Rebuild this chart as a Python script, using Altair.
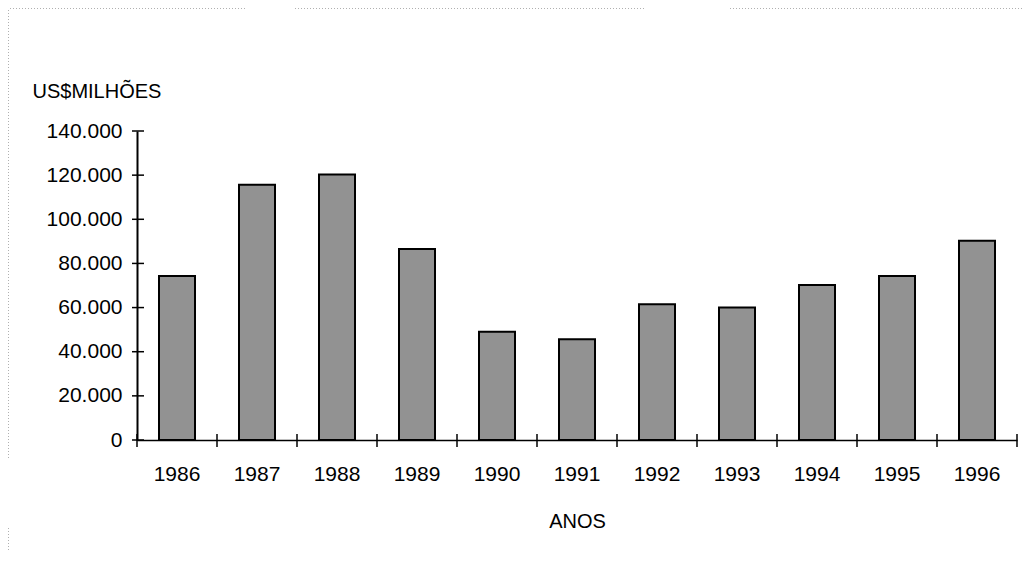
import altair as alt
import pandas as pd

years = ["1986", "1987", "1988", "1989", "1990", "1991", "1992", "1993", "1994", "1995", "1996"]
values = [74300, 115700, 120300, 86500, 49100, 45600, 61500, 60000, 70200, 74300, 90300]
y_tick_values = [0, 20000, 40000, 60000, 80000, 100000, 120000, 140000]

df = pd.DataFrame({"ano": years, "valor": values})
ticks_df = pd.DataFrame({"v": y_tick_values})
one = pd.DataFrame({"k": [0]})

FONT = "Liberation Sans"
x_scale = alt.Scale(paddingInner=0, paddingOuter=0)
y_scale = alt.Scale(domain=[0, 140000], nice=False)

x_axis = alt.Axis(title="ANOS", labelAngle=0, ticks=False, tickSize=0,
                  labelPadding=23, domainColor="black", domainWidth=1.5,
                  titleX=440, titleY=87, titleAlign="center",
                  titleBaseline="alphabetic", grid=False)
y_axis = alt.Axis(title="US$MILHÕES", values=y_tick_values, ticks=False, tickSize=0,
                  labelPadding=15, domainColor="black", domainWidth=2,
                  labelExpr="replace(format(datum.value, ','), ',', '.')",
                  titleAngle=0, titleAlign="left", titleBaseline="alphabetic",
                  titleX=-105, titleY=-34, grid=False)

bars = alt.Chart(df).mark_bar(
    width=alt.RelativeBandSize(0.45), fill="#929292", stroke="black", strokeWidth=2
).encode(
    x=alt.X("ano:O", scale=x_scale, sort=years, axis=x_axis),
    y=alt.Y("valor:Q", scale=y_scale, axis=y_axis),
)

xticks = alt.Chart(df).mark_rule(color="black", strokeWidth=1.5).encode(
    x=alt.X("ano:O", scale=x_scale, sort=years, bandPosition=0, axis=x_axis),
    y=alt.value(303), y2=alt.value(316),
)
xtick_last = alt.Chart(df).transform_filter(
    alt.datum.ano == years[-1]
).mark_rule(color="black", strokeWidth=1.5).encode(
    x=alt.X("ano:O", scale=x_scale, sort=years, bandPosition=1, axis=x_axis),
    y=alt.value(303), y2=alt.value(316),
)
yticks = alt.Chart(ticks_df).mark_rule(color="black", strokeWidth=1.5).encode(
    y=alt.Y("v:Q", scale=y_scale, axis=y_axis),
    x=alt.value(-5), x2=alt.value(7),
)

frame_color = "#b0b0b0"
def frame_seg(x1, x2, y1, y2):
    return alt.Chart(one).mark_rule(color=frame_color, strokeDash=[1, 2], strokeWidth=1).encode(
        x=alt.value(x1), x2=alt.value(x2), y=alt.value(y1), y2=alt.value(y2)
    )

frame = [
    frame_seg(-128.5, -128.5, -121, 329),
    frame_seg(-128.5, -128.5, 397, 420),
    frame_seg(-127, 108, -122.5, -122.5),
    frame_seg(158, 508, -122.5, -122.5),
    frame_seg(593, 886, -122.5, -122.5),
]

chart = alt.layer(bars, xticks, xtick_last, yticks, *frame).properties(
    width=880, height=309,
    background="white",
    autosize=alt.AutoSizeParams(type="none"),
    padding={"left": 129, "top": 123, "right": 6, "bottom": 114},
).configure_view(stroke=None).configure_axis(
    labelFont=FONT, titleFont=FONT, labelFontSize=21, titleFontSize=20,
    labelColor="black", titleColor="black", titleFontWeight="normal",
)

chart.save("out.html", embed_options={"renderer": "svg", "actions": False})
